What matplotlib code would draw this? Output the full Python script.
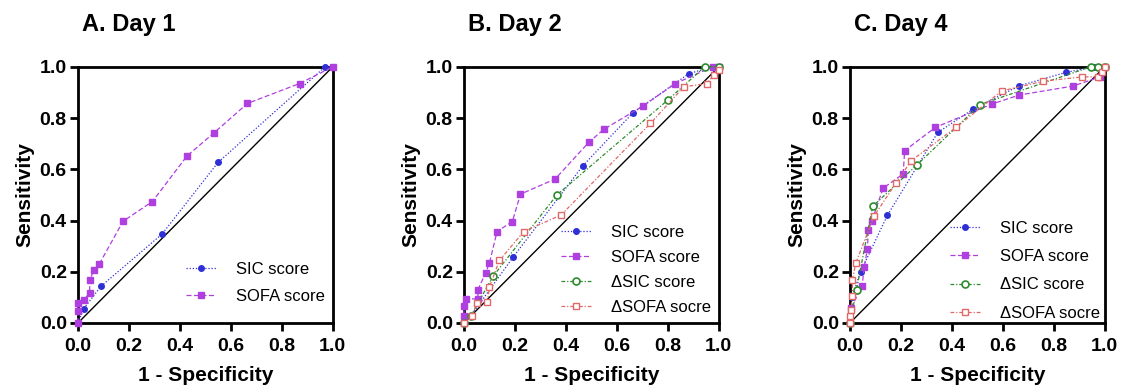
import matplotlib
matplotlib.use('Agg')  # headless
import matplotlib.pyplot as plt

plt.rcParams['font.family'] = ['Liberation Sans', 'DejaVu Sans']

# -----------------------------
# data
# -----------------------------
# A. Day 1
a_sic_x = [0, 0.022, 0.09, 0.33, 0.55, 0.97, 1.0]
a_sic_y = [0, 0.055, 0.143, 0.347, 0.627, 1.0, 1.0]
a_sofa_x = [0, 0, 0, 0.022, 0.046, 0.046, 0.062, 0.084, 0.177, 0.292, 0.428, 0.535, 0.665, 0.87, 1.0]
a_sofa_y = [0, 0.045, 0.078, 0.09, 0.117, 0.169, 0.205, 0.231, 0.397, 0.474, 0.652, 0.743, 0.857, 0.935, 1.0]

# B. Day 2
b_sic_x = [0, 0.026, 0.193, 0.467, 0.664, 0.884, 0.976, 1.0]
b_sic_y = [0, 0.026, 0.257, 0.614, 0.821, 0.974, 1.0, 1.0]
b_sofa_x = [0, 0, 0, 0.01, 0.055, 0.055, 0.085, 0.10, 0.13, 0.19, 0.222, 0.358, 0.49, 0.549, 0.703, 0.83, 0.976, 1.0]
b_sofa_y = [0, 0.026, 0.065, 0.094, 0.094, 0.13, 0.195, 0.234, 0.357, 0.396, 0.503, 0.562, 0.705, 0.756, 0.847, 0.935, 1.0, 1.0]
b_dsic_x = [0, 0.026, 0.114, 0.365, 0.80, 0.945, 1.0]
b_dsic_y = [0, 0.026, 0.182, 0.50, 0.87, 1.0, 1.0]
b_dsofa_x = [0, 0.033, 0.05, 0.092, 0.10, 0.139, 0.235, 0.382, 0.732, 0.863, 0.954, 0.98, 1.0]
b_dsofa_y = [0, 0.026, 0.078, 0.08, 0.14, 0.244, 0.357, 0.422, 0.779, 0.922, 0.935, 0.968, 0.987]

# C. Day 4
c_sic_x = [0, 0.008, 0.042, 0.147, 0.345, 0.484, 0.665, 0.847, 0.958, 1.0]
c_sic_y = [0, 0.10, 0.20, 0.42, 0.744, 0.835, 0.926, 0.978, 1.0, 1.0]
c_sofa_x = [0, 0.005, 0.048, 0.056, 0.069, 0.072, 0.087, 0.13, 0.209, 0.215, 0.336, 0.558, 0.665, 0.876, 0.983, 1.0]
c_sofa_y = [0, 0.06, 0.145, 0.218, 0.29, 0.364, 0.40, 0.526, 0.582, 0.673, 0.764, 0.855, 0.89, 0.925, 0.961, 1.0]
c_dsic_x = [0, 0.026, 0.089, 0.263, 0.511, 0.945, 0.975, 1.0]
c_dsic_y = [0, 0.13, 0.455, 0.617, 0.853, 1.0, 1.0, 1.0]
c_dsofa_x = [0, 0, 0.003, 0.01, 0.01, 0.023, 0.095, 0.18, 0.241, 0.417, 0.596, 0.76, 0.913, 0.975, 0.99, 1.0]
c_dsofa_y = [0, 0.026, 0.052, 0.104, 0.169, 0.234, 0.418, 0.545, 0.634, 0.764, 0.906, 0.944, 0.961, 0.961, 0.98, 1.0]

labels = ["SIC score", "SOFA score", "\u0394SIC score", "\u0394SOFA socre"]
titles = ["A. Day 1", "B. Day 2", "C. Day 4"]

blue = "#2f2fd6"
purple = "#b03fe0"
green = "#2c8c2c"
red = "#e06868"

styles = [
    dict(color=blue, ls=(0, (1, 1.5)), marker="o", ms=4, mfc=blue, mec=blue),
    dict(color=purple, ls=(0, (4, 2)), marker="s", ms=4.5, mfc=purple, mec=purple),
    dict(color=green, ls=(0, (3, 1.5, 1, 1.5)), marker="o", ms=5, mfc="white", mec=green, mew=1.2),
    dict(color=red, ls=(0, (3, 1.5, 1, 1.5)), marker="s", ms=5, mfc="white", mec=red, mew=1.0),
]

panels = [
    [(a_sic_x, a_sic_y), (a_sofa_x, a_sofa_y)],
    [(b_sic_x, b_sic_y), (b_sofa_x, b_sofa_y), (b_dsic_x, b_dsic_y), (b_dsofa_x, b_dsofa_y)],
    [(c_sic_x, c_sic_y), (c_sofa_x, c_sofa_y), (c_dsic_x, c_dsic_y), (c_dsofa_x, c_dsofa_y)],
]

fig = plt.figure(figsize=(11.22, 3.91), dpi=100)
lefts = [0.0695, 0.4135, 0.7575]
legend_y = [0.015, -0.028, -0.05]
legend_x = [1.03, 1.03, 1.04]
legend_sp = [0.75, 0.6, 0.8]

for i, series in enumerate(panels):
    ax = fig.add_axes([lefts[i], 0.174, 0.227, 0.655])
    ax.plot([0, 1], [0, 1], color="black", lw=1.0, zorder=1)
    for j, (x, y) in enumerate(series):
        ax.plot(x, y, lw=0.9, label=labels[j], clip_on=False, zorder=3 + j, **styles[j])

    ax.set_xlim(0, 1)
    ax.set_ylim(0, 1)
    ax.set_xticks([0, 0.2, 0.4, 0.6, 0.8, 1.0])
    ax.set_yticks([0, 0.2, 0.4, 0.6, 0.8, 1.0])
    ax.set_xticklabels(["0.0", "0.2", "0.4", "0.6", "0.8", "1.0"])
    ax.set_yticklabels(["0.0", "0.2", "0.4", "0.6", "0.8", "1.0"])
    for s in ax.spines.values():
        s.set_linewidth(2)
    ax.tick_params(direction="out", width=2, length=6, labelsize=14, pad=2)
    ax.tick_params(axis="x", pad=5)
    for t in ax.get_xticklabels() + ax.get_yticklabels():
        t.set_fontweight("bold")
    ax.set_xlabel("1 - Specificity", fontsize=15, fontweight="bold", labelpad=8)
    ax.set_ylabel("Sensitivity", fontsize=15, fontweight="bold", labelpad=4)

    ax.legend(loc="lower right", bbox_to_anchor=(legend_x[i], legend_y[i]), frameon=False,
              fontsize=12, handlelength=1.8, handletextpad=1.2, labelspacing=legend_sp[i])

    fig.text(lefts[i] + 0.004, 1 - 25 / 391, titles[i], fontsize=17, fontweight="bold",
             va="center", ha="left")

fig.savefig("out.png", dpi=100)
